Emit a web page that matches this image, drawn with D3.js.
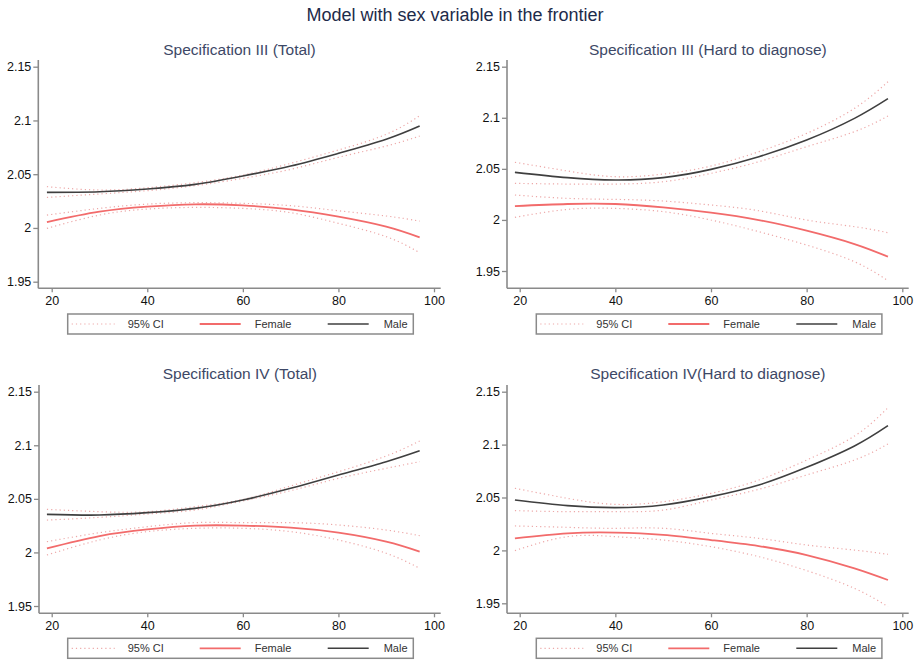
<!DOCTYPE html>
<html><head><meta charset="utf-8">
<script src="https://cdn.jsdelivr.net/npm/d3@7"></script>
<style>
html,body{margin:0;padding:0;background:#fff;}
svg{display:block;font-family:"Liberation Sans",Arial,sans-serif;}
</style></head>
<body>
<svg id="chart" width="917" height="661"></svg>
<script>
// ---- data ----
const mainTitle = "Model with sex variable in the frontier";
const panelTitles = ["Specification III (Total)", "Specification III (Hard to diagnose)",
                     "Specification IV (Total)", "Specification IV(Hard to diagnose)"];
const legendLabels = ["95% CI", "Female", "Male"];
const xTicks = [20, 40, 60, 80, 100];
const yTicks = [1.95, 2, 2.05, 2.1, 2.15];
const yTickLabels = ["1.95", "2", "2.05", "2.1", "2.15"];
const ages = [19, 30, 40, 50, 60, 70, 80, 90, 97];

const p1Male   = [2.0331, 2.0337, 2.0362, 2.0405, 2.0483, 2.0576, 2.0694, 2.0825, 2.0948];
const p1MaleHi = [2.0384, 2.0353, 2.0374, 2.0421, 2.0492, 2.0601, 2.0725, 2.0871, 2.1044];
const p1MaleLo = [2.0284, 2.0316, 2.0347, 2.0393, 2.0461, 2.0545, 2.0657, 2.0762, 2.0855];
const p1Fem    = [2.0055, 2.0151, 2.0198, 2.0220, 2.0210, 2.0173, 2.0105, 2.0012, 1.9912];
const p1FemHi  = [2.0120, 2.0182, 2.0222, 2.0235, 2.0229, 2.0207, 2.0160, 2.0111, 2.0064];
const p1FemLo  = [1.9996, 2.0120, 2.0176, 2.0191, 2.0182, 2.0142, 2.0043, 1.9919, 1.9770];

const p2Male   = [2.0466, 2.0414, 2.0391, 2.0414, 2.0495, 2.0619, 2.0782, 2.0994, 2.1187];
const p2MaleHi = [2.0564, 2.0479, 2.0423, 2.0449, 2.0528, 2.0668, 2.0847, 2.1092, 2.1353];
const p2MaleLo = [2.0358, 2.0351, 2.0351, 2.0374, 2.0456, 2.0570, 2.0717, 2.0864, 2.1017];
const p2Fem    = [2.0136, 2.0156, 2.0156, 2.0123, 2.0071, 1.9999, 1.9895, 1.9764, 1.9640];
const p2FemHi  = [2.0244, 2.0211, 2.0201, 2.0185, 2.0146, 2.0090, 1.9999, 1.9934, 1.9875];
const p2FemLo  = [2.0025, 2.0103, 2.0113, 2.0081, 1.9999, 1.9885, 1.9754, 1.9591, 1.9405];

const p3Male   = [2.0355, 2.0349, 2.0371, 2.0411, 2.0489, 2.0598, 2.0722, 2.0847, 2.0949];
const p3MaleHi = [2.0402, 2.0380, 2.0380, 2.0427, 2.0495, 2.0620, 2.0753, 2.0900, 2.1040];
const p3MaleLo = [2.0302, 2.0327, 2.0358, 2.0396, 2.0480, 2.0576, 2.0691, 2.0785, 2.0847];
const p3Fem    = [2.0038, 2.0153, 2.0215, 2.0250, 2.0250, 2.0231, 2.0184, 2.0100, 2.0007];
const p3FemHi  = [2.0100, 2.0184, 2.0240, 2.0278, 2.0278, 2.0278, 2.0256, 2.0209, 2.0156];
const p3FemLo  = [1.9976, 2.0116, 2.0194, 2.0225, 2.0225, 2.0194, 2.0116, 1.9992, 1.9852];

const p4Male   = [2.0476, 2.0423, 2.0404, 2.0429, 2.0508, 2.0618, 2.0785, 2.0987, 2.1179];
const p4MaleHi = [2.0587, 2.0492, 2.0435, 2.0460, 2.0539, 2.0665, 2.0854, 2.1081, 2.1349];
const p4MaleLo = [2.0376, 2.0366, 2.0366, 2.0381, 2.0476, 2.0577, 2.0713, 2.0854, 2.1006];
const p4Fem    = [2.0114, 2.0161, 2.0168, 2.0146, 2.0098, 2.0041, 1.9956, 1.9830, 1.9720];
const p4FemHi  = [2.0231, 2.0218, 2.0209, 2.0209, 2.0161, 2.0114, 2.0051, 2.0003, 1.9963];
const p4FemLo  = [1.9998, 2.0130, 2.0130, 2.0098, 2.0035, 1.9941, 1.9809, 1.9641, 1.9469];

const panelData = [
  {male:p1Male, maleHi:p1MaleHi, maleLo:p1MaleLo, fem:p1Fem, femHi:p1FemHi, femLo:p1FemLo},
  {male:p2Male, maleHi:p2MaleHi, maleLo:p2MaleLo, fem:p2Fem, femHi:p2FemHi, femLo:p2FemLo},
  {male:p3Male, maleHi:p3MaleHi, maleLo:p3MaleLo, fem:p3Fem, femHi:p3FemHi, femLo:p3FemLo},
  {male:p4Male, maleHi:p4MaleHi, maleLo:p4MaleLo, fem:p4Fem, femHi:p4FemHi, femLo:p4FemLo}
];

// ---- layout ----
const layouts = [
  {x20:51.7, x100:434,   yAxisX:38.3, xEnd:440.7, y215:66.7,  y195:281.7, top:60,  bottom:288.3, titleY:50,  legX:67.7,  legY:314},
  {x20:519.7,x100:902.3, yAxisX:507,  xEnd:908.7, y215:66.7,  y195:271,   top:60,  bottom:288.3, titleY:50,  legX:536.3, legY:314},
  {x20:51.7, x100:434,   yAxisX:39,   xEnd:440.7, y215:391.7, y195:606,   top:385, bottom:613.3, titleY:374, legX:67.7,  legY:638.3},
  {x20:519.7,x100:902.3, yAxisX:507,  xEnd:908.7, y215:391.7, y195:603.3, top:385, bottom:613.3, titleY:374, legX:536.3, legY:638.3}
];

const COL_F = "#f26b6b", COL_M = "#3f3f3f", COL_CI = "#eda8a8", COL_AX = "#8a8a8a";
const svg = d3.select("#chart");

svg.append("text").attr("x", 455).attr("y", 21).attr("text-anchor", "middle")
  .attr("font-size", 18).attr("fill", "#1d2b4a").text(mainTitle);

layouts.forEach((L, i) => {
  const D = panelData[i];
  const x = d3.scaleLinear().domain([20, 100]).range([L.x20, L.x100]);
  const y = d3.scaleLinear().domain([1.95, 2.15]).range([L.y195, L.y215]);
  const g = svg.append("g");

  g.append("text").attr("x", (L.yAxisX + L.xEnd) / 2).attr("y", L.titleY + 5)
    .attr("text-anchor", "middle").attr("font-size", 15.5).attr("fill", "#3d4866")
    .text(panelTitles[i]);

  // axes lines
  g.append("line").attr("x1", L.yAxisX).attr("x2", L.yAxisX).attr("y1", L.top).attr("y2", L.bottom)
    .attr("stroke", COL_AX).attr("stroke-width", 1.6);
  g.append("line").attr("x1", L.yAxisX).attr("x2", L.xEnd).attr("y1", L.bottom).attr("y2", L.bottom)
    .attr("stroke", COL_AX).attr("stroke-width", 1.6);

  const yAx = g.append("g").attr("transform", `translate(${L.yAxisX},0)`)
    .call(d3.axisLeft(y).tickValues(yTicks).tickSize(5).tickPadding(2)
      .tickFormat((d, k) => yTickLabels[k]));
  yAx.select(".domain").remove();
  yAx.selectAll(".tick line").attr("stroke", COL_AX).attr("stroke-width", 1.3);
  yAx.selectAll(".tick text").attr("font-size", 12.5).attr("fill", "#111")
    .attr("font-family", "'Liberation Sans',Arial,sans-serif");

  const xAx = g.append("g").attr("transform", `translate(0,${L.bottom})`)
    .call(d3.axisBottom(x).tickValues(xTicks).tickSize(4).tickPadding(4));
  xAx.select(".domain").remove();
  xAx.selectAll(".tick line").attr("stroke", COL_AX).attr("stroke-width", 1.3);
  xAx.selectAll(".tick text").attr("font-size", 12.5).attr("fill", "#111")
    .attr("font-family", "'Liberation Sans',Arial,sans-serif");

  const line = vals => d3.line().curve(d3.curveNatural)
    .x((d, k) => x(ages[k])).y(d => y(d))(vals);

  [D.maleHi, D.maleLo, D.femHi, D.femLo].forEach(v => {
    g.append("path").attr("d", line(v)).attr("fill", "none")
      .attr("stroke", COL_CI).attr("stroke-width", 1.2).attr("stroke-dasharray", "1.2,3");
  });
  g.append("path").attr("d", line(D.fem)).attr("fill", "none")
    .attr("stroke", COL_F).attr("stroke-width", 1.8);
  g.append("path").attr("d", line(D.male)).attr("fill", "none")
    .attr("stroke", COL_M).attr("stroke-width", 1.6);

  // legend
  const lg = g.append("g").attr("transform", `translate(${L.legX},${L.legY})`);
  lg.append("rect").attr("width", 345.6).attr("height", 20).attr("fill", "#fff")
    .attr("stroke", COL_AX).attr("stroke-width", 1.5);
  const keys = [
    {x1:4, x2:47, tx:60, col:COL_CI, w:1.2, dash:"1.2,3"},
    {x1:132, x2:173, tx:187, col:COL_F, w:1.8, dash:null},
    {x1:260, x2:301, tx:316, col:COL_M, w:1.6, dash:null}
  ];
  keys.forEach((k, j) => {
    lg.append("line").attr("x1", k.x1).attr("x2", k.x2).attr("y1", 10).attr("y2", 10)
      .attr("stroke", k.col).attr("stroke-width", k.w).attr("stroke-dasharray", k.dash);
    lg.append("text").attr("x", k.tx).attr("y", 14).attr("font-size", 11)
      .attr("fill", "#333").text(legendLabels[j]);
  });
});
</script>
</body></html>
